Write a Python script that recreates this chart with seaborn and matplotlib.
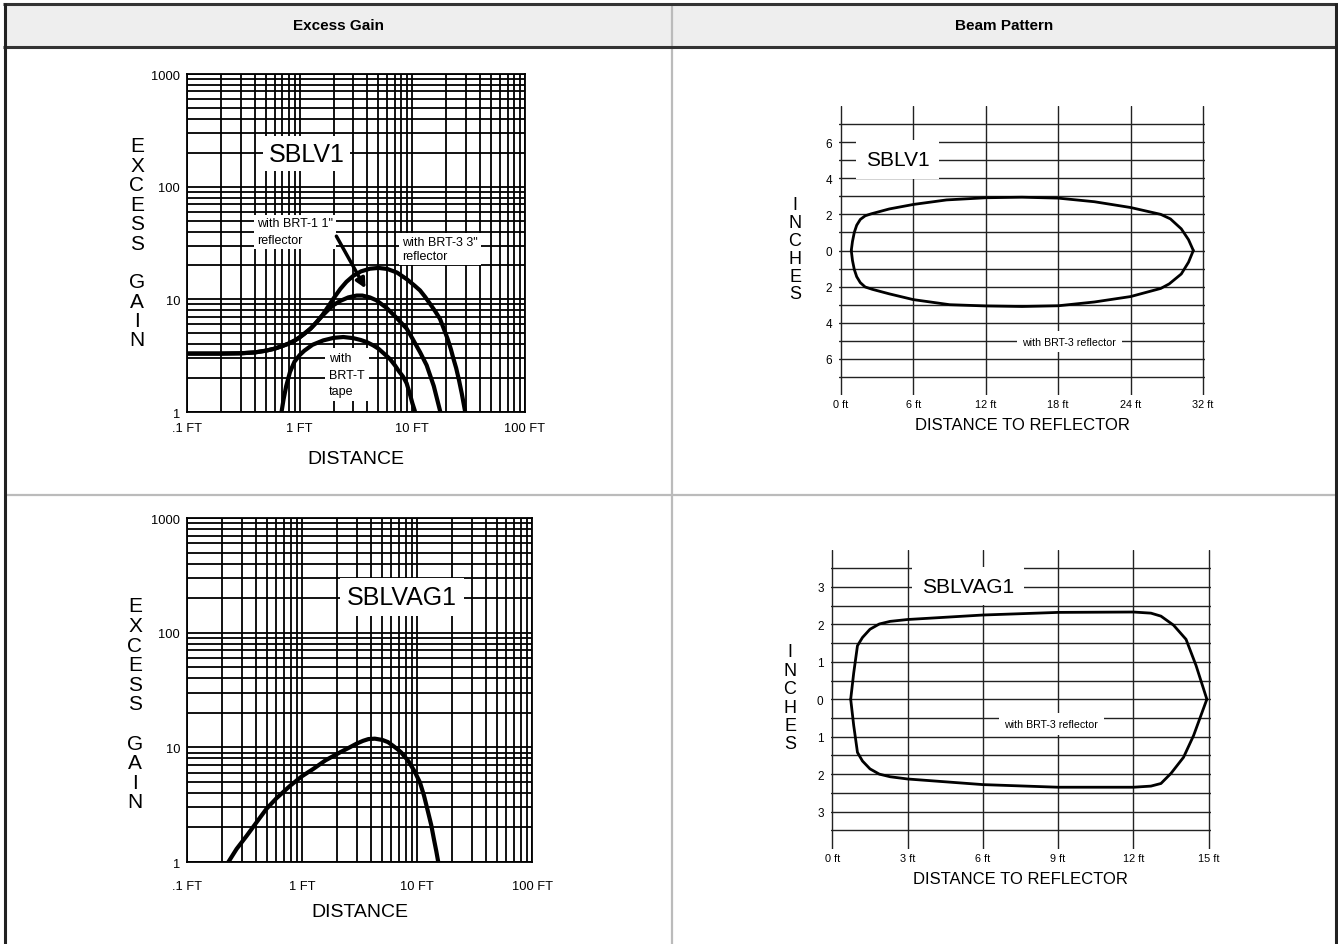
import matplotlib
matplotlib.use("Agg")
import matplotlib.pyplot as plt
import matplotlib.lines as mlines
import matplotlib.patches as mpatches
from matplotlib.ticker import LogLocator, NullFormatter
import seaborn as sns

# ---- Excess gain, SBLV1 (distance in ft, excess gain) ----
dist_brt3 = [0.1, 0.2, 0.3, 0.4, 0.5, 0.6, 0.7, 0.8, 0.9, 1.0, 1.1, 1.25, 1.4, 1.6, 1.8,
             2.0, 2.3, 2.6, 3.0, 3.5, 4.2, 5.0, 6.0, 7.3, 9.0, 10.5, 11.7, 13.0, 14.5,
             16.0, 17.6, 19.0, 20.5, 22.0, 23.1, 24.5, 26.0, 27.5, 29.3, 31.0]
gain_brt3 = [3.3, 3.3, 3.32, 3.38, 3.5, 3.65, 3.85, 4.05, 4.3, 4.6, 4.95, 5.5, 6.2, 7.3,
             8.7, 10.2, 12.4, 14.3, 16.2, 17.7, 18.7, 19.0, 18.6, 17.3, 15.0, 13.2,
             12.0, 10.5, 9.0, 7.8, 6.7, 5.5, 4.5, 3.6, 3.0, 2.45, 1.9, 1.45, 1.03, 0.75]

dist_brt1 = [0.1, 0.2, 0.3, 0.4, 0.5, 0.6, 0.7, 0.8, 0.9, 1.0, 1.1, 1.25, 1.4, 1.6, 1.8,
             2.0, 2.3, 2.7, 3.2, 3.6, 4.2, 4.8, 5.9, 7.3, 8.9, 10.0, 11.7, 13.4, 15.5,
             17.6, 18.5]
gain_brt1 = [3.3, 3.3, 3.32, 3.38, 3.5, 3.65, 3.85, 4.05, 4.3, 4.6, 4.95, 5.5, 6.2, 7.2,
             8.1, 8.9, 9.7, 10.4, 10.8, 10.8, 10.4, 9.8, 8.4, 6.8, 5.5, 4.5, 3.4, 2.6,
             1.7, 1.03, 0.85]

dist_brtt = [0.66, 0.69, 0.72, 0.76, 0.82, 0.9, 1.0, 1.1, 1.3, 1.62, 2.0, 2.44, 3.0,
             3.5, 3.93, 4.5, 5.0, 5.6, 6.3, 7.0, 7.6, 8.3, 8.9, 9.5, 10.0, 10.5, 10.8]
gain_brtt = [0.9, 1.0, 1.3, 1.7, 2.26, 2.8, 3.2, 3.5, 3.95, 4.32, 4.55, 4.63, 4.52,
             4.35, 4.18, 3.9, 3.65, 3.3, 2.97, 2.6, 2.3, 2.05, 1.8, 1.45, 1.2, 1.03, 0.9]

# ---- Excess gain, SBLVAG1 ----
dist_ag = [0.21, 0.229, 0.27, 0.33, 0.4, 0.49, 0.6, 0.79, 1.0, 1.25, 1.6, 2.14, 2.6,
           3.0, 3.4, 3.78, 4.3, 5.0, 5.6, 6.2, 6.8, 7.3, 8.4, 9.5, 10.6, 11.5, 12.5,
           13.3, 14.0, 14.7, 15.3, 16.0]
gain_ag = [0.88, 1.0, 1.3, 1.69, 2.2, 2.9, 3.6, 4.63, 5.6, 6.47, 7.7, 9.04, 10.0, 10.8,
           11.4, 11.8, 11.9, 11.6, 11.1, 10.3, 9.6, 9.0, 7.6, 6.2, 4.95, 3.8, 2.71,
           2.1, 1.6, 1.25, 1.0, 0.85]

gain_xticks = [0.1, 1, 10, 100]
gain_xlabels = [".1 FT", "1 FT", "10 FT", "100 FT"]
gain_yticks = [1, 10, 100, 1000]
gain_ylabels = ["1", "10", "100", "1000"]

# ---- Beam pattern, SBLV1 (grid units of 6 ft, inches) ----
beam1_x_top = [0.85, 0.95, 1.1, 1.3, 1.6, 2.0, 2.5, 4.0, 6.0, 8.75, 12.0, 15.0, 18.0,
               21.0, 24.0, 26.5, 27.3, 28.2, 28.8, 29.2]
beam1_y_top = [0.0, 0.5, 1.0, 1.4, 1.72, 1.92, 2.03, 2.3, 2.55, 2.8, 2.92, 2.95, 2.9,
               2.7, 2.38, 2.0, 1.75, 1.2, 0.6, 0.0]
beam1_x_bot = [0.85, 0.95, 1.1, 1.3, 1.6, 2.0, 2.6, 4.0, 6.0, 9.0, 12.0, 15.0, 18.0,
               21.0, 24.0, 26.5, 27.2, 28.2, 28.8, 29.2]
beam1_y_bot = [0.0, -0.55, -1.05, -1.45, -1.78, -2.02, -2.15, -2.4, -2.72, -3.0, -3.07,
               -3.1, -3.06, -2.85, -2.55, -2.1, -1.85, -1.3, -0.65, 0.0]
beam1_xticks = [0, 6, 12, 18, 24, 30]
beam1_xlabels = ["0 ft", "6 ft", "12 ft", "18 ft", "24 ft", "32 ft"]
beam1_yticks = [-6, -4, -2, 0, 2, 4, 6]
beam1_ylabels = ["6", "4", "2", "0", "2", "4", "6"]

# ---- Beam pattern, SBLVAG1 (ft, inches) ----
beam2_x_top = [0.73, 0.85, 1.0, 1.2, 1.5, 1.87, 2.3, 3.0, 6.0, 9.0, 12.0, 12.7, 13.1,
               13.6, 14.1, 14.5, 14.93]
beam2_y_top = [0.0, 0.7, 1.43, 1.65, 1.87, 2.01, 2.08, 2.13, 2.25, 2.32, 2.33, 2.3,
               2.22, 1.98, 1.6, 0.9, 0.0]
beam2_x_bot = [0.73, 0.85, 1.0, 1.2, 1.5, 1.87, 2.3, 3.0, 6.0, 9.0, 12.0, 12.7, 13.1,
               13.5, 14.0, 14.4, 14.93]
beam2_y_bot = [0.0, -0.7, -1.42, -1.65, -1.86, -2.0, -2.07, -2.13, -2.28, -2.35, -2.35,
               -2.32, -2.25, -1.98, -1.55, -0.97, 0.0]
beam2_xticks = [0, 3, 6, 9, 12, 15]
beam2_xlabels = ["0 ft", "3 ft", "6 ft", "9 ft", "12 ft", "15 ft"]
beam2_yticks = [-3, -2, -1, 0, 1, 2, 3]
beam2_ylabels = ["3", "2", "1", "0", "1", "2", "3"]

sns.set_theme(style="white")
plt.rcParams["font.family"] = ["Liberation Sans", "DejaVu Sans"]
plt.rcParams["text.color"] = "black"

W, H = 1338, 945
fig = plt.figure(figsize=(W / 100, H / 100), dpi=100)


def rect(l, t, r, b):
    return [l / W, 1 - b / H, (r - l) / W, (b - t) / H]


def fline(x0, y0, x1, y1, color, lw):
    fig.add_artist(mlines.Line2D([x0 / W, x1 / W], [1 - y0 / H, 1 - y1 / H],
                                 transform=fig.transFigure, color=color, lw=lw,
                                 solid_capstyle="butt"))


def stacked(text, x, y_first, step, size):
    for i, ch in enumerate(text):
        if ch != " ":
            fig.text(x / W, 1 - (y_first + i * step) / H, ch, ha="center",
                     va="center", fontsize=size)


# table frame
fig.add_artist(mpatches.Rectangle((5 / W, 1 - 48 / H), 1331 / W, 43 / H,
                                  transform=fig.transFigure, color="#eeeeee", lw=0))
fline(672, 5, 672, 945, "#bbbbbb", 1.6)
fline(5, 496, 1336, 496, "#bbbbbb", 1.6)
fline(3, 5, 1338, 5, "#333333", 2.2)
fline(3, 48, 1338, 48, "#333333", 2.2)
fline(5, 4, 5, 945, "#222222", 2.2)
fline(1336, 4, 1336, 945, "#222222", 2.2)
fig.text(338 / W, 1 - 26 / H, "Excess Gain", ha="center", va="center",
         fontsize=11, weight="bold")
fig.text(1004 / W, 1 - 26 / H, "Beam Pattern", ha="center", va="center",
         fontsize=11, weight="bold")


def gain_axes(pos, xpad):
    ax = fig.add_axes(pos)
    ax.set_xscale("log")
    ax.set_yscale("log")
    ax.set_xlim(0.1, 100)
    ax.set_ylim(1, 1000)
    ax.set_xticks(gain_xticks, gain_xlabels)
    ax.set_yticks(gain_yticks, gain_ylabels)
    for axis in (ax.xaxis, ax.yaxis):
        axis.set_minor_locator(LogLocator(base=10, subs=range(2, 10)))
        axis.set_minor_formatter(NullFormatter())
    ax.grid(True, which="both", color="black", lw=1.3)
    ax.set_axisbelow(True)
    ax.tick_params(which="both", length=0, labelsize=9.3, colors="black")
    ax.tick_params(axis="x", pad=xpad)
    ax.tick_params(axis="y", pad=5)
    for s in ax.spines.values():
        s.set_color("black")
        s.set_linewidth(1.3)
    return ax


def beam_axes(pos, xticks, xlabels, yticks, ylabels, ymax, ystep):
    ax = fig.add_axes(pos)
    xm = xticks[-1] * 0.005
    ax.set_xlim(-xm, xticks[-1] + xm)
    ax.set_ylim(-ymax, ymax)
    ax.set_xticks(xticks, xlabels)
    ax.set_yticks(yticks, ylabels)
    minor = []
    v = -ymax + ystep
    while v < ymax - 1e-9:
        minor.append(round(v, 3))
        v += ystep
    ax.set_yticks([m for m in minor if m not in yticks], minor=True)
    ax.grid(True, axis="x", which="major", color="#222222", lw=1.0)
    ax.grid(True, axis="y", which="both", color="#222222", lw=1.0)
    ax.set_axisbelow(True)
    ax.tick_params(which="both", length=0, colors="black")
    ax.tick_params(axis="x", labelsize=7.8, pad=3)
    ax.tick_params(axis="y", labelsize=8.5, pad=5)
    for s in ax.spines.values():
        s.set_visible(False)
    return ax


box_style = dict(facecolor="white", edgecolor="none")

# ---- top-left: excess gain SBLV1 ----
ax1 = gain_axes(rect(187, 75, 525, 413), 7)
for d, g in [(dist_brt3, gain_brt3), (dist_brt1, gain_brt1), (dist_brtt, gain_brtt)]:
    sns.lineplot(x=d, y=g, ax=ax1, color="black", lw=3, estimator=None, sort=False)
ax1.set_xlabel("DISTANCE", fontsize=14, labelpad=12, color="black")
ax1.text(1.16, 195, "SBLV1", fontsize=18, ha="center", va="center", zorder=1.5,
         bbox=dict(pad=4, **box_style))
ax1.text(0.42, 40, 'with BRT-1 1"\nreflector', fontsize=9, ha="left", va="center",
         linespacing=1.5, zorder=1.5, bbox=dict(pad=2, **box_style))
ax1.text(8.1, 28, 'with BRT-3 3"\nreflector', fontsize=9, ha="left", va="center",
         linespacing=1.3, zorder=1.5, bbox=dict(pad=2, **box_style))
ax1.text(1.82, 2.15, "with\nBRT-T\ntape", fontsize=9, ha="left", va="center",
         linespacing=1.5, zorder=1.5, bbox=dict(pad=3, **box_style))
ax1.annotate("", xy=(3.95, 11.9), xytext=(2.06, 38.2),
             arrowprops=dict(arrowstyle="-|>", lw=2.5, color="black", mutation_scale=14))
stacked("EXCESS GAIN", 137, 147, 19.4, 15)

# ---- bottom-left: excess gain SBLVAG1 ----
ax2 = gain_axes(rect(187, 519, 532, 863), 13)
sns.lineplot(x=dist_ag, y=gain_ag, ax=ax2, color="black", lw=3, estimator=None, sort=False)
ax2.set_xlabel("DISTANCE", fontsize=14, labelpad=8, color="black")
ax2.text(7.4, 204, "SBLVAG1", fontsize=18, ha="center", va="center", zorder=1.5,
         bbox=dict(pad=5, **box_style))
stacked("EXCESS GAIN", 135, 607, 19.6, 15)

# ---- top-right: beam pattern SBLV1 ----
ax3 = beam_axes(rect(839.2, 107, 1204.8, 396), beam1_xticks, beam1_xlabels,
                beam1_yticks, beam1_ylabels, 8, 1)
sns.lineplot(x=beam1_x_top, y=beam1_y_top, ax=ax3, color="black", lw=2, estimator=None, sort=False)
sns.lineplot(x=beam1_x_bot, y=beam1_y_bot, ax=ax3, color="black", lw=2, estimator=None, sort=False)
ax3.set_xlabel("DISTANCE TO REFLECTOR", fontsize=12, labelpad=6, color="black")
ax3.text(4.7, 5.05, "SBLV1", fontsize=15, ha="center", va="center", zorder=1.5,
         bbox=dict(pad=7, **box_style))
ax3.text(18.9, -5.05, "with BRT-3 reflector", fontsize=7.7, ha="center", va="center",
         zorder=1.5, bbox=dict(pad=4, **box_style))
stacked("INCHES", 795, 205, 18, 13)

# ---- bottom-right: beam pattern SBLVAG1 ----
ax4 = beam_axes(rect(830.5, 550.5, 1210.5, 850), beam2_xticks, beam2_xlabels,
                beam2_yticks, beam2_ylabels, 4, 0.5)
sns.lineplot(x=beam2_x_top, y=beam2_y_top, ax=ax4, color="black", lw=2, estimator=None, sort=False)
sns.lineplot(x=beam2_x_bot, y=beam2_y_bot, ax=ax4, color="black", lw=2, estimator=None, sort=False)
ax4.set_xlabel("DISTANCE TO REFLECTOR", fontsize=12, labelpad=6, color="black")
ax4.text(5.4, 3.02, "SBLVAG1", fontsize=15, ha="center", va="center", zorder=1.5,
         bbox=dict(pad=7, **box_style))
ax4.text(8.72, -0.66, "with BRT-3 reflector", fontsize=7.7, ha="center", va="center",
         zorder=1.5, bbox=dict(pad=4, **box_style))
stacked("INCHES", 790, 653, 18.4, 13)

fig.savefig("out.png", dpi=100)
